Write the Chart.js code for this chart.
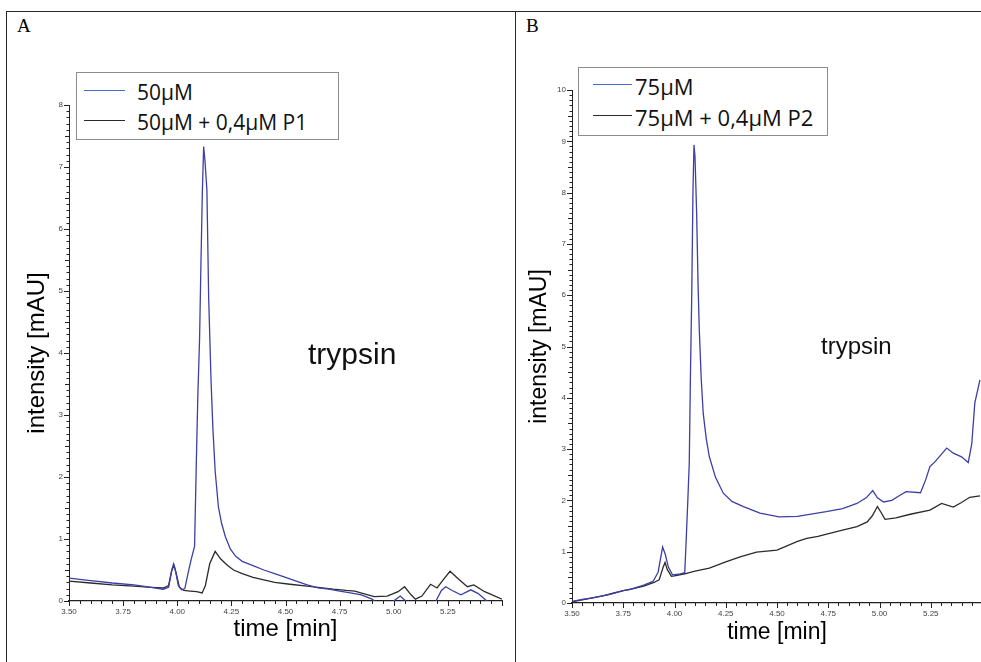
<!DOCTYPE html>
<html>
<head>
<meta charset="utf-8">
<script src="https://cdn.jsdelivr.net/npm/chart.js@4/dist/chart.umd.min.js"></script>
<style>
  body { margin: 0; width: 981px; height: 662px; overflow: hidden; background: #fff; position: relative; font-family: "Liberation Sans", Arial, sans-serif; }
  .rule { position: absolute; background: #2a2a2a; }
  .letter { position: absolute; font-family: "Liberation Serif", serif; font-size: 19px; color: #000; }
  canvas { position: absolute; }
  .legend { position: absolute; border: 1px solid #8c8c8c; background: #fff; }
  .legend .row { position: absolute; left: 0; height: 30px; display: flex; align-items: center; white-space: nowrap; }
  .legend .swatch { display: inline-block; height: 0; border-top: 1.5px solid; position: relative; top: -2px; }
  .legend .txt { font-family: "Open Sans", sans-serif; color: #111; }
  .note { position: absolute; color: #111; }
</style>
</head>
<body>
<div class="rule" style="left:6px;top:11px;width:975px;height:1px"></div>
<div class="rule" style="left:6px;top:11px;width:1px;height:651px"></div>
<div class="rule" style="left:515px;top:11px;width:1px;height:651px"></div>
<div class="letter" style="left:17px;top:15px">A</div>
<div class="letter" style="left:526px;top:15px">B</div>

<canvas id="chartA" width="504" height="620" style="left:8px;top:40px"></canvas>
<canvas id="chartB" width="480" height="620" style="left:518px;top:40px"></canvas>

<div class="legend" id="legendA" style="left:76px;top:72px;width:261px;height:66px"></div>
<div class="legend" id="legendB" style="left:578px;top:67px;width:248px;height:67px"></div>
<div class="note" style="left:308px;top:337px;font-size:30px">trypsin</div>
<div class="note" style="left:821px;top:332px;font-size:24px">trypsin</div>

<script>
// panel A : 50µM trypsin assay
const labelsA = ["50µM", "50µM + 0,4µM P1"];
const timeA1 = [3.50, 3.60, 3.70, 3.80, 3.88, 3.935, 3.96, 3.975, 3.983, 3.99, 4.005, 4.02, 4.035, 4.05, 4.065, 4.08, 4.088, 4.095, 4.103, 4.11, 4.116, 4.122, 4.128, 4.137, 4.145, 4.156, 4.165, 4.175, 4.19, 4.205, 4.222, 4.245, 4.27, 4.30, 4.35, 4.40, 4.45, 4.50, 4.55, 4.60, 4.65, 4.70, 4.75, 4.80, 4.85, 4.90, 4.93, 4.99, 5.00, 5.03, 5.055, 5.07, 5.18, 5.195, 5.22, 5.24, 5.27, 5.31, 5.356, 5.39, 5.43, 5.45, 5.50];
const valsA1 = [0.37, 0.33, 0.29, 0.26, 0.22, 0.19, 0.22, 0.50, 0.60, 0.52, 0.25, 0.18, 0.20, 0.45, 0.68, 0.88, 2.22, 3.30, 4.21, 5.55, 6.60, 7.33, 7.10, 6.63, 4.91, 3.56, 2.76, 2.10, 1.52, 1.25, 1.04, 0.84, 0.72, 0.64, 0.57, 0.50, 0.44, 0.38, 0.32, 0.26, 0.21, 0.19, 0.16, 0.13, 0.10, 0.03, -0.05, -0.05, 0.0, 0.08, 0.0, -0.05, -0.05, 0.0, 0.17, 0.23, 0.17, 0.10, 0.18, 0.12, 0.0, -0.05, -0.05];
const timeA2 = [3.50, 3.60, 3.70, 3.80, 3.88, 3.935, 3.96, 3.975, 3.985, 3.995, 4.01, 4.03, 4.06, 4.09, 4.115, 4.13, 4.15, 4.175, 4.20, 4.23, 4.26, 4.30, 4.35, 4.40, 4.45, 4.52, 4.60, 4.65, 4.72, 4.78, 4.82, 4.86, 4.91, 4.97, 5.02, 5.05, 5.08, 5.10, 5.13, 5.17, 5.20, 5.23, 5.26, 5.30, 5.34, 5.37, 5.42, 5.50];
const valsA2 = [0.32, 0.29, 0.26, 0.24, 0.22, 0.21, 0.25, 0.50, 0.57, 0.45, 0.22, 0.17, 0.16, 0.15, 0.13, 0.25, 0.60, 0.80, 0.68, 0.58, 0.50, 0.44, 0.38, 0.34, 0.30, 0.27, 0.24, 0.22, 0.19, 0.17, 0.16, 0.12, 0.07, 0.08, 0.15, 0.23, 0.10, 0.03, 0.08, 0.27, 0.21, 0.35, 0.48, 0.35, 0.23, 0.26, 0.15, 0.03];
const yTicksA = ["0", "1", "2", "3", "4", "5", "6", "7", "8"];

// panel B : 75µM trypsin assay
const labelsB = ["75µM", "75µM + 0,4µM P2"];
const timeB1 = [3.50, 3.55, 3.60, 3.685, 3.75, 3.78, 3.85, 3.895, 3.92, 3.942, 3.955, 3.97, 3.99, 4.02, 4.05, 4.056, 4.065, 4.072, 4.078, 4.084, 4.09, 4.095, 4.10, 4.108, 4.115, 4.121, 4.13, 4.14, 4.155, 4.17, 4.20, 4.238, 4.28, 4.336, 4.417, 4.51, 4.60, 4.74, 4.82, 4.89, 4.935, 4.967, 4.99, 5.02, 5.06, 5.10, 5.13, 5.20, 5.225, 5.246, 5.27, 5.328, 5.36, 5.40, 5.433, 5.45, 5.465, 5.49];
const valsB1 = [0.03, 0.07, 0.10, 0.17, 0.24, 0.26, 0.35, 0.42, 0.60, 1.09, 0.95, 0.70, 0.55, 0.56, 0.59, 1.13, 2.00, 2.73, 4.50, 5.97, 8.00, 8.93, 8.70, 7.60, 6.20, 5.32, 4.40, 3.70, 3.20, 2.85, 2.45, 2.14, 1.98, 1.88, 1.75, 1.68, 1.69, 1.78, 1.84, 1.94, 2.05, 2.19, 2.05, 1.97, 2.00, 2.10, 2.17, 2.15, 2.40, 2.66, 2.75, 3.02, 2.92, 2.85, 2.74, 3.10, 3.90, 4.35];
const timeB2 = [3.50, 3.55, 3.60, 3.65, 3.70, 3.75, 3.80, 3.85, 3.90, 3.925, 3.945, 3.954, 3.965, 3.985, 4.00, 4.05, 4.10, 4.17, 4.25, 4.32, 4.40, 4.50, 4.60, 4.645, 4.70, 4.80, 4.89, 4.94, 4.965, 4.99, 5.01, 5.027, 5.08, 5.15, 5.246, 5.303, 5.36, 5.40, 5.44, 5.49];
const valsB2 = [0.02, 0.06, 0.10, 0.14, 0.19, 0.24, 0.28, 0.33, 0.40, 0.45, 0.70, 0.79, 0.65, 0.52, 0.53, 0.57, 0.62, 0.68, 0.80, 0.90, 0.99, 1.03, 1.20, 1.26, 1.30, 1.40, 1.49, 1.58, 1.70, 1.88, 1.75, 1.63, 1.66, 1.73, 1.81, 1.94, 1.87, 1.96, 2.06, 2.09];
const yTicksB = ["0", "1", "2", "3", "4", "5", "6", "7", "8", "9", "10"];

const xTicks = ["3.50", "3.75", "4.00", "4.25", "4.50", "4.75", "5.00", "5.25"];
const blue = "#3d3fa6";
const black = "#2b2b2b";
const legendBlue = "#4a68cf";

function toXY(ts, vs) {
  return ts.map((t, i) => ({ x: t, y: vs[i] }));
}

// tick marks drawn from the scales' own ticks (major ones longer)
const marcas = {
  id: "marcas",
  afterDraw(chart) {
    const { ctx } = chart;
    const xs = chart.scales.x;
    const ys = chart.scales.y;
    ctx.save();
    ctx.strokeStyle = "#222";
    ctx.lineWidth = 1;
    ctx.beginPath();
    xs.ticks.forEach((t) => {
      const px = Math.round(xs.getPixelForValue(t.value)) + 0.5;
      const major = Math.round(t.value * 100) % 25 === 0;
      ctx.moveTo(px, xs.top);
      ctx.lineTo(px, xs.top + (major ? 5 : 3));
    });
    ys.ticks.forEach((t) => {
      const py = Math.round(ys.getPixelForValue(t.value)) + 0.5;
      const r = Math.round(t.value * 10);
      const len = r % 10 === 0 ? 5 : r % 5 === 0 ? 4 : 2.5;
      ctx.moveTo(ys.right, py);
      ctx.lineTo(ys.right - len, py);
    });
    ctx.stroke();
    ctx.restore();
  },
};

function crearPanel(canvas, cfg) {
  const tickFont = { family: "Liberation Sans", size: 8 };
  return new Chart(canvas, {
    type: "line",
    data: {
      datasets: [
        { label: cfg.labels[0], data: toXY(cfg.t1, cfg.v1), borderColor: blue, borderWidth: 1.3, pointRadius: 0, tension: 0 },
        { label: cfg.labels[1], data: toXY(cfg.t2, cfg.v2), borderColor: black, borderWidth: 1.3, pointRadius: 0, tension: 0 },
      ],
    },
    options: {
      responsive: false,
      animation: false,
      devicePixelRatio: 1,
      layout: { padding: cfg.padding },
      plugins: { legend: { display: false }, tooltip: { enabled: false } },
      scales: {
        x: {
          type: "linear",
          min: 3.5,
          max: 5.5,
          afterFit: (s) => { s.height = 50; },
          ticks: {
            stepSize: 0.05,
            maxTicksLimit: 1000,
            autoSkip: false,
            maxRotation: 0,
            padding: 6,
            color: "#444",
            font: tickFont,
            callback: (v) => (xTicks.includes(v.toFixed(2)) ? v.toFixed(2) : ""),
          },
          grid: { drawOnChartArea: false, drawTicks: false },
          border: { color: "#222", width: 1.2 },
          title: { display: true, text: "time [min]", color: "#000", font: { family: "Liberation Sans", size: cfg.titleSize }, padding: { top: 0, bottom: cfg.xTitlePad } },
        },
        y: {
          min: 0,
          max: cfg.yMax,
          afterFit: (s) => { s.width = cfg.yWidth; },
          ticks: {
            stepSize: 0.1,
            maxTicksLimit: 1000,
            autoSkip: false,
            padding: 6,
            color: "#444",
            font: tickFont,
            callback: (v) => {
              const lab = String(Math.round(v * 10) / 10);
              return cfg.yTicks.includes(lab) ? lab : "";
            },
          },
          grid: { drawOnChartArea: false, drawTicks: false },
          border: { color: "#222", width: 1 },
          title: { display: true, text: "intensity [mAU]", color: "#000", font: { family: "Liberation Sans", size: cfg.titleSize }, padding: { top: cfg.yTitlePad, bottom: 0 } },
        },
      },
    },
    plugins: [marcas],
  });
}

function crearLeyenda(el, labels, rowTops, sw) {
  const colors = [legendBlue, black];
  labels.forEach((lab, i) => {
    const row = document.createElement("div");
    row.className = "row";
    row.style.top = rowTops[i] + "px";
    row.innerHTML = `<span class="swatch" style="border-color:${colors[i]};width:${sw.w}px;margin-left:${sw.ml}px;margin-right:${sw.mr}px"></span><span class="txt" style="font-size:${sw.fs}px">${lab}</span>`;
    el.appendChild(row);
  });
}

crearPanel(document.getElementById("chartA"), {
  labels: labelsA, t1: timeA1, v1: valsA1, t2: timeA2, v2: valsA2,
  yMax: 8, yTicks: yTicksA, yWidth: 61,
  padding: { left: 0, top: 65, right: 10, bottom: 9 },
  titleSize: 24, yTitlePad: 15, xTitlePad: 7,
});
crearPanel(document.getElementById("chartB"), {
  labels: labelsB, t1: timeB1, v1: valsB1, t2: timeB2, v2: valsB2,
  yMax: 10, yTicks: yTicksB, yWidth: 54,
  padding: { left: 0, top: 50, right: 16, bottom: 7 },
  titleSize: 23, yTitlePad: 8, xTitlePad: 7,
});
crearLeyenda(document.getElementById("legendA"), labelsA, [4, 34], { w: 41, ml: 7, mr: 12, fs: 21 });
crearLeyenda(document.getElementById("legendB"), labelsB, [3, 34], { w: 39, ml: 14, mr: 3, fs: 22 });
</script>
</body>
</html>
